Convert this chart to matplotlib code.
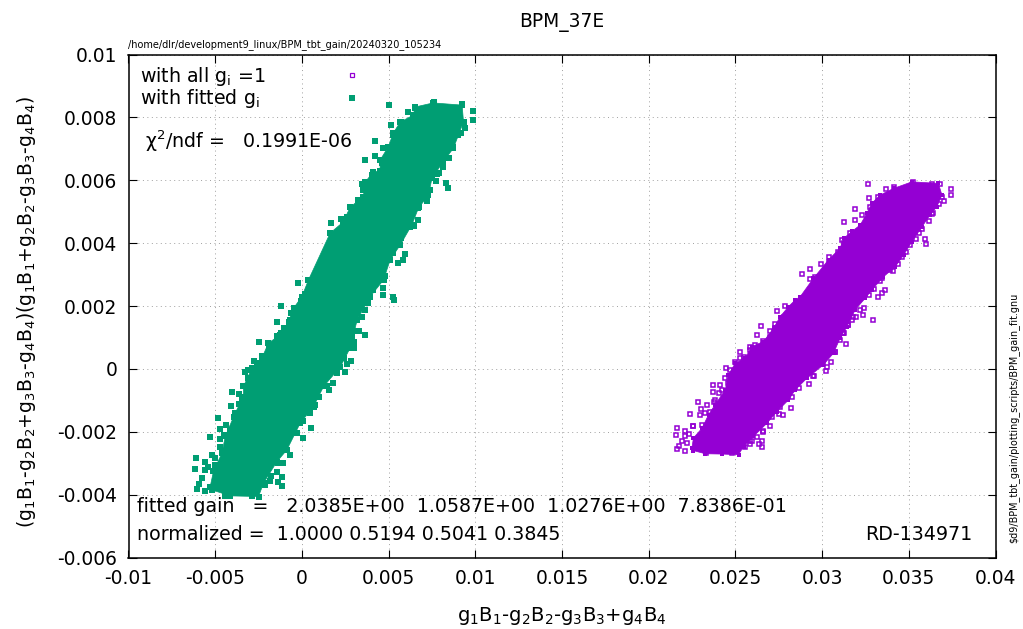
import numpy as np
import matplotlib
matplotlib.use('Agg')
import matplotlib.pyplot as plt

plt.rcParams['font.family'] = 'DejaVu Sans'
plt.rcParams['mathtext.fontset'] = 'dejavusans'
plt.rcParams['mathtext.default'] = 'regular'

# everything below is in units of 1e-3
# outline of the solid part of each cloud
green_edge_x = [-5.29,-5.10,-4.61,-4.42,-3.85,-3.37,-3.37,-2.88,-2.31,-1.93,-1.25,-0.77,-0.48,0,0.38,1.63,2.38,2.79,3.54,3.65,4.11,4.51,4.51,4.99,5.27,5.67,6.42,6.53,7.57,9.24,9.32,9.03,8.74,8.15,7.50,7.30,6.72,6.34,5.67,5.09,4.71,3.94,3.19,2.79,2.21,1.25,0.67,-0.10,-0.87,-1.44,-2.21,-2.50,-4.13,-5.19]
green_edge_y = [-3.75,-3.26,-2.68,-2.15,-1.41,-0.88,-0.56,0.02,0.34,0.82,1.08,1.50,1.93,2.30,2.83,4.32,4.67,5.15,5.47,5.94,6.26,6.30,6.64,7.07,7.50,7.85,8.07,8.33,8.46,8.39,7.86,7.44,7.02,6.59,6.06,5.53,5.11,4.58,3.94,3.47,2.83,2.30,1.56,0.67,0.06,-0.56,-1.20,-1.73,-2.58,-2.95,-3.63,-4.06,-4.04,-3.85]

purple_edge_x = [22.49,22.58,23.07,23.45,23.83,24.41,24.60,24.99,25.56,25.95,26.62,27.20,27.58,28.06,28.45,28.74,29.50,30.37,31.04,31.24,31.72,32.20,32.58,32.87,33.35,34.12,35.18,36.71,36.91,36.62,36.23,35.76,35.18,34.70,34.22,33.54,32.87,32.49,31.91,31.43,31.04,30.66,30.08,29.12,28.45,28.06,27.39,26.82,26.04,25.47,25.18,24.22,23.26,22.58]
purple_edge_y = [-2.52,-2.20,-1.89,-1.46,-1.14,-0.67,-0.19,0.18,0.34,0.71,0.87,1.29,1.66,1.98,2.19,2.30,2.88,3.47,3.84,4.15,4.37,4.58,4.95,5.27,5.53,5.74,5.95,5.90,5.53,5.16,4.90,4.52,4.05,3.62,3.25,2.93,2.51,2.25,1.88,1.34,0.98,0.50,0.13,-0.30,-0.67,-0.99,-1.36,-1.73,-2.15,-2.47,-2.73,-2.71,-2.70,-2.60]

# stray points around the clouds
green_x = [-0.25,-1.23,-1.46,-2.46,-4.04,-3.62,-4.09,-3.65,-4.85,-4.37,-4.71,-5.29,-4.75,-4.52,-6.10,-6.15,-5.59,-5.58,-5.44,-5.77,-5.96,-6.05,-5.58,-5.16,-5.00,-4.42,-2.88,-1.15,-1.35,-1.14,-1.44,-1.83,-1.77,-0.67,-1.10,0.09,0.50,0.73,0.48,1.57,1.81,2.51,2.60,2.84,2.98,3.65,3.27,4.67,4.65,5.28,5.32,5.02,6.09,5.13,4.24,4.67,4.24,3.65,3.49,3.26,2.88,2.27,1.69,9.88,9.86,9.23,9.42,9.19,8.69,8.51,8.13,7.82,7.76,8.32,8.40,7.21,6.72,6.44,5.96,5.82,5.57,7.59]
green_y = [2.72,2.01,1.50,0.87,-0.73,-0.79,-1.18,-1.11,-1.55,-1.80,-1.91,-2.18,-2.23,-2.10,-2.85,-3.17,-2.97,-3.23,-3.13,-3.48,-3.66,-3.81,-3.90,-2.73,-2.84,-4.04,-4.04,-3.74,-3.60,-3.44,-3.28,-3.58,-3.42,-2.73,-3.00,-2.20,-1.88,-1.14,-1.41,-0.68,-0.45,-0.10,0.16,0.25,0.84,1.08,1.19,2.57,2.35,2.28,2.19,8.39,8.18,7.77,7.25,7.02,6.77,6.64,5.89,5.37,5.13,4.76,4.63,8.20,7.92,8.41,7.67,7.49,7.05,6.72,6.43,6.20,5.97,5.90,5.74,5.34,4.74,4.55,3.65,3.47,3.38,8.50]

purple_x = [27.87,27.39,26.45,26.99,26.22,26.99,27.30,25.24,25.85,26.14,26.58,24.45,25.28,23.68,24.14,23.68,24.03,22.87,23.39,23.74,22.99,22.41,22.97,23.22,22.58,21.64,21.57,22.12,22.30,22.10,21.91,21.72,21.66,22.12,23.30,24.80,26.53,26.35,26.56,26.26,25.85,25.95,27.02,26.62,27.76,28.22,27.49,29.26,29.54,30.25,30.29,30.54,30.72,31.35,31.05,32.62,33.70,32.73,31.87,32.29,31.87,31.27,31.12,30.89,30.37,29.93,29.30,28.83,29.31,36.81,37.46,37.44,37.04,36.77,36.33,36.14,35.75,35.39,35.96,36.02,34.85,34.40,34.37,34.08,33.35,33.60,33.22,33.45,33.00,32.43,31.96,32.33,32.96,31.52,31.20]
purple_y = [2.01,1.84,1.36,1.20,1.08,1.01,1.43,0.55,0.69,0.76,0.88,0.04,0.34,-0.52,-0.50,-0.75,-0.77,-1.06,-1.15,-1.06,-1.28,-1.44,-1.48,-1.39,-1.81,-1.89,-2.11,-1.97,-2.07,-2.14,-2.31,-2.44,-2.54,-2.61,-2.69,-2.68,-2.49,-2.38,-2.28,-2.17,-2.40,-2.29,-1.81,-2.02,-1.47,-1.24,-1.45,-0.49,-0.23,-0.07,0.07,0.21,0.55,0.79,0.92,5.87,5.72,5.43,5.08,4.90,4.74,4.66,4.09,3.71,3.55,3.33,3.18,3.01,2.85,5.88,5.73,5.54,5.35,5.24,4.93,4.70,4.45,4.13,4.12,3.97,3.73,3.57,3.33,3.11,2.78,2.50,2.30,2.41,2.54,1.94,1.64,1.72,1.55,1.40,1.13]

# bumps along the cloud edges
green_near_x = [0.19,-0.06,-0.64,-0.68,-1.06,-1.20,-1.45,-1.89,-2.31,-2.75,-2.60,-3.08,-3.27,-3.08,-3.33,-3.46,-3.71,-3.94,-4.14,-4.71,-5.00,3.65,3.49,2.98,2.88,3.01,2.40,2.02,1.44,0.96,0.09,-0.29,-1.06,-1.35,-2.12,2.02,2.59,2.88,3.55,4.03,4.61,5.28,5.71,6.53,8.26,7.88,7.40,7.24,6.78,6.25,5.71,5.28,4.80,4.09,3.84]
green_near_y = [2.38,2.17,1.77,1.54,1.31,1.15,1.03,0.66,0.41,0.26,0.18,-0.05,-0.09,-0.30,-0.53,-0.93,-1.39,-1.54,-1.94,-2.47,-3.05,1.88,1.66,1.19,1.03,0.66,0.34,-0.14,-0.56,-0.88,-1.67,-2.05,-2.58,-3.00,-3.69,4.31,4.84,5.11,5.69,6.17,6.54,7.44,7.86,8.29,6.70,6.22,5.69,5.37,5.16,4.52,4.15,3.68,2.94,2.51,2.09]

purple_near_x = [27.81,27.29,25.85,25.47,24.99,24.70,24.41,24.60,24.22,23.83,23.55,23.07,22.58,22.20,31.81,31.52,31.23,30.75,30.08,29.50,28.64,28.26,27.58,27.10,26.62,25.85,25.56,29.60,30.37,31.24,31.62,32.77,33.25,34.12,35.27,36.33,36.91,36.42,35.56,35.08,34.60,33.93,33.45,32.68,32.20,31.72,31.24]
purple_near_y = [1.66,1.29,0.60,0.39,0.23,-0.03,-0.30,-0.46,-0.67,-0.98,-1.36,-1.78,-1.83,-2.36,1.66,1.40,1.13,0.55,0.18,-0.24,-0.61,-0.91,-1.20,-1.52,-1.99,-2.31,-2.47,2.93,3.41,3.99,4.31,5.16,5.48,5.80,5.95,5.88,5.48,4.95,4.31,3.94,3.57,3.15,2.88,2.35,1.88,1.56,1.13]

x_ticks = [-0.01,-0.005,0,0.005,0.01,0.015,0.02,0.025,0.03,0.035,0.04]
x_labels = ['-0.01','-0.005','0','0.005','0.01','0.015','0.02','0.025','0.03','0.035','0.04']
y_ticks = [-0.006,-0.004,-0.002,0,0.002,0.004,0.006,0.008,0.01]
y_labels = ['-0.006','-0.004','-0.002','0','0.002','0.004','0.006','0.008','0.01']

GREEN = '#009e73'
PURPLE = '#9400d3'
W, H = 1023, 629
FS = 13.4
FS_NOTE = 13.7

def at(px, py):
    return px / W, 1 - py / H

def e3(v):
    return np.array(v) * 1e-3

fig = plt.figure(figsize=(W / 100, H / 100), dpi=100)
ax = fig.add_axes([128.5 / W, 1 - 557.5 / H, 867 / W, 503 / H])

ax.set_xlim(-0.01, 0.04)
ax.set_ylim(-0.006, 0.01)
ax.set_xticks(x_ticks)
ax.set_xticklabels(x_labels)
ax.set_yticks(y_ticks)
ax.set_yticklabels(y_labels)
ax.tick_params(direction='in', top=True, right=True, length=5.5, width=0.8, labelsize=FS, pad=8)
ax.grid(True, color='#a0a0a0', linestyle=(0, (1, 3.6)), linewidth=0.7)
ax.set_axisbelow(True)
for s in ax.spines.values():
    s.set_linewidth(1.1)

# purple cloud, open squares
ax.plot(e3(purple_x), e3(purple_y), ls='none', marker='s', ms=2.6, mfc='none', mec=PURPLE, mew=1.1, zorder=3)
ax.plot(e3(purple_near_x), e3(purple_near_y), ls='none', marker='s', ms=2.6, mfc='none', mec=PURPLE, mew=1.1, zorder=3)
ax.fill(e3(purple_edge_x), e3(purple_edge_y), color=PURPLE, lw=0.5, zorder=3)
ax.plot(e3(purple_edge_x), e3(purple_edge_y), ls='none', marker='s', ms=3.4, color=PURPLE, mew=0, zorder=3)
# green cloud, filled squares
ax.plot(e3(green_x), e3(green_y), ls='none', marker='s', ms=3.7, color=GREEN, mew=0, zorder=4)
ax.plot(e3(green_near_x), e3(green_near_y), ls='none', marker='s', ms=3.7, color=GREEN, mew=0, zorder=4)
ax.fill(e3(green_edge_x), e3(green_edge_y), color=GREEN, lw=0.5, zorder=4)
ax.plot(e3(green_edge_x), e3(green_edge_y), ls='none', marker='s', ms=3.7, color=GREEN, mew=0, zorder=4)

# key samples
ax.plot(e3([2.88]), e3([9.36]), ls='none', marker='s', ms=2.4, mfc='none', mec=PURPLE, mew=0.9)
ax.plot(e3([2.88]), e3([8.63]), ls='none', marker='s', ms=3.7, color=GREEN, mew=0)

kw = dict(fontsize=FS_NOTE, va='center', ha='left')
fig.text(*at(140, 76), 'with all g$_i$ =1', **kw)
fig.text(*at(140, 98), 'with fitted g$_i$', **kw)
fig.text(*at(145, 141), 'χ$^2$/ndf =   0.1991E-06', **kw)
fig.text(*at(137, 507), 'fitted gain   =   2.0385E+00  1.0587E+00  1.0276E+00  7.8386E-01', **kw)
fig.text(*at(137, 534), 'normalized =  1.0000 0.5194 0.5041 0.3845', **kw)
fig.text(*at(972, 534), 'RD-134971', fontsize=FS_NOTE, va='center', ha='right')

fig.text(*at(562, 22), 'BPM_37E', fontsize=FS, va='center', ha='center')
fig.text(*at(128, 45), '/home/dlr/development9_linux/BPM_tbt_gain/20240320_105234', fontsize=7.05, va='center', ha='left')
fig.text(*at(1014, 417.5), r'\$d9/BPM_tbt_gain/plotting_scripts/BPM_gain_fit.gnu', fontsize=6.9,
         rotation=90, va='center', ha='center')
fig.text(*at(562, 616), 'g$_1$B$_1$-g$_2$B$_2$-g$_3$B$_3$+g$_4$B$_4$', fontsize=14, va='center', ha='center')
fig.text(*at(27, 312), '(g$_1$B$_1$-g$_2$B$_2$+g$_3$B$_3$-g$_4$B$_4$)(g$_1$B$_1$+g$_2$B$_2$-g$_3$B$_3$-g$_4$B$_4$)',
         fontsize=13.5, rotation=90, va='center', ha='center')

fig.savefig('out.png', dpi=100)
